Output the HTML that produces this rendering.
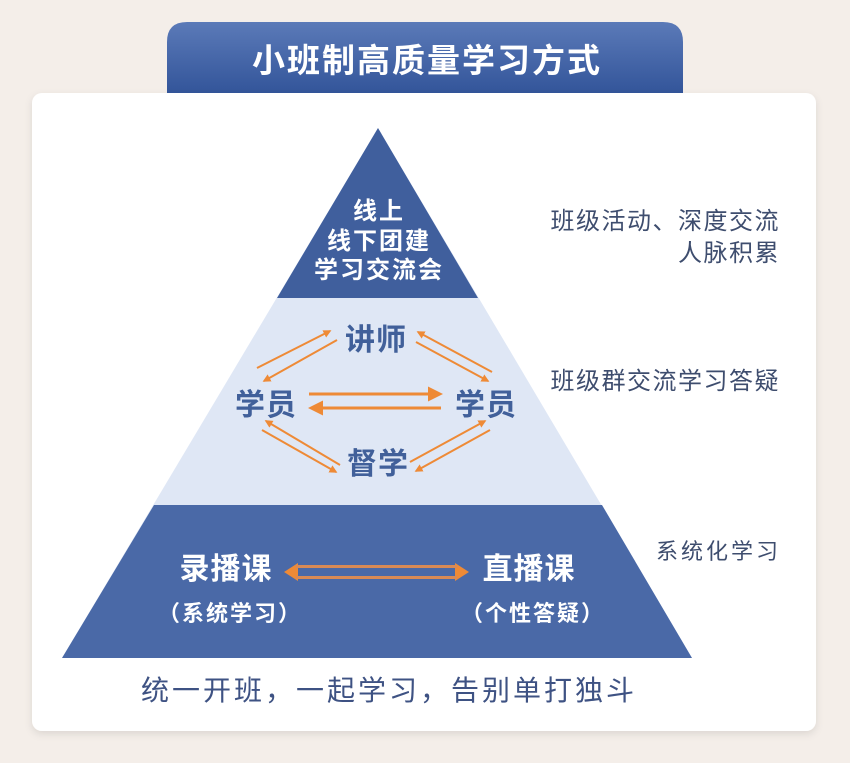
<!DOCTYPE html>
<html><head><meta charset="utf-8"><style>
html,body{margin:0;padding:0;background:#f4eee9;}
svg{display:block;}
text{font-family:"Liberation Sans","Noto Sans CJK SC",sans-serif;}
</style></head><body>
<svg width="850" height="763" viewBox="0 0 850 763" xmlns="http://www.w3.org/2000/svg">
<defs>
<linearGradient id="hg" x1="0" y1="0" x2="0" y2="1">
<stop offset="0" stop-color="#5b7ab8"/><stop offset="1" stop-color="#33559a"/>
</linearGradient>
<marker id="ah" viewBox="0 0 10 10" refX="8" refY="5" markerWidth="5" markerHeight="5" orient="auto-start-reverse">
<path d="M0,0 L10,5 L0,10 z" fill="#ee8a36"/></marker>
<marker id="ah2" viewBox="0 0 10 10" refX="8" refY="5" markerWidth="4" markerHeight="4" orient="auto-start-reverse">
<path d="M0,0 L10,5 L0,10 z" fill="#ee8a36"/></marker>
<filter id="sh" x="-5%" y="-5%" width="110%" height="110%"><feDropShadow dx="0" dy="3" stdDeviation="4" flood-color="#000" flood-opacity="0.1"/></filter>
</defs>
<rect width="850" height="763" fill="#f4eee9"/>
<path d="M167,93 L167,42 Q167,22 187,22 L663,22 Q683,22 683,42 L683,93 Z" fill="url(#hg)"/>
<text x="427" y="72" font-size="33" font-weight="bold" fill="#fff" text-anchor="middle" letter-spacing="2">小班制高质量学习方式</text>
<rect x="32" y="93" width="784" height="638" rx="10" fill="#fff" filter="url(#sh)"/>
<polygon points="378,128 62,658 692,658" fill="#dfe7f5"/>
<polygon points="378,128 277,298 478,298" fill="#405f9d"/>
<polygon points="154,505 602,505 692,658 62,658" fill="#4a69a7"/>
<g fill="#fff" font-weight="bold" font-size="24" text-anchor="middle" letter-spacing="2">
<text x="379" y="219">线上</text>
<text x="379" y="249">线下团建</text>
<text x="379" y="278">学习交流会</text>
</g>
<g fill="#41609a" font-weight="bold" font-size="30" text-anchor="middle" letter-spacing="1">
<text x="376" y="350">讲师</text>
<text x="266" y="415">学员</text>
<text x="486" y="415">学员</text>
<text x="378" y="474">督学</text>
</g>
<g stroke="#ee8a36" stroke-width="2" fill="none">
<line x1="257" y1="368" x2="330" y2="331" marker-end="url(#ah2)"/>
<line x1="337" y1="340" x2="264" y2="381" marker-end="url(#ah2)"/>
<line x1="492" y1="372" x2="418" y2="332" marker-end="url(#ah2)"/>
<line x1="416" y1="342" x2="488" y2="381" marker-end="url(#ah2)"/>
<line x1="340" y1="465" x2="266" y2="421" marker-end="url(#ah2)"/>
<line x1="262" y1="430" x2="336" y2="472" marker-end="url(#ah2)"/>
<line x1="410" y1="462" x2="485" y2="421" marker-end="url(#ah2)"/>
<line x1="490" y1="430" x2="416" y2="471" marker-end="url(#ah2)"/>
</g>
<g stroke="#ee8a36" stroke-width="3" fill="none">
<line x1="309" y1="394" x2="440" y2="394" marker-end="url(#ah)"/>
<line x1="441" y1="408" x2="311" y2="408" marker-end="url(#ah)"/>
</g>
<g fill="#fff" font-weight="bold" text-anchor="middle">
<text x="226" y="579" font-size="30" letter-spacing="1">录播课</text>
<text x="529" y="579" font-size="30" letter-spacing="1">直播课</text>
<text x="230" y="621" font-size="22" letter-spacing="2">（系统学习）</text>
<text x="533" y="621" font-size="22" letter-spacing="2">（个性答疑）</text>
</g>
<polygon points="284,572 298,563 298,581" fill="#ee8a36"/>
<polygon points="469,572 455,563 455,581" fill="#ee8a36"/>
<rect x="296" y="565" width="161" height="3" fill="#d98a55"/>
<rect x="296" y="576" width="161" height="3" fill="#d98a55"/>
<text x="389" y="700" font-size="28" fill="#3e5283" text-anchor="middle" letter-spacing="3">统一开班，一起学习，告别单打独斗</text>
<g fill="#3e4d6e" font-size="24" text-anchor="end" letter-spacing="1.5">
<text x="780" y="229">班级活动、深度交流</text>
<text x="780" y="261">人脉积累</text>
<text x="780" y="389">班级群交流学习答疑</text>
<text x="781" y="559" font-size="22" letter-spacing="3">系统化学习</text>
</g>
</svg>
</body></html>
